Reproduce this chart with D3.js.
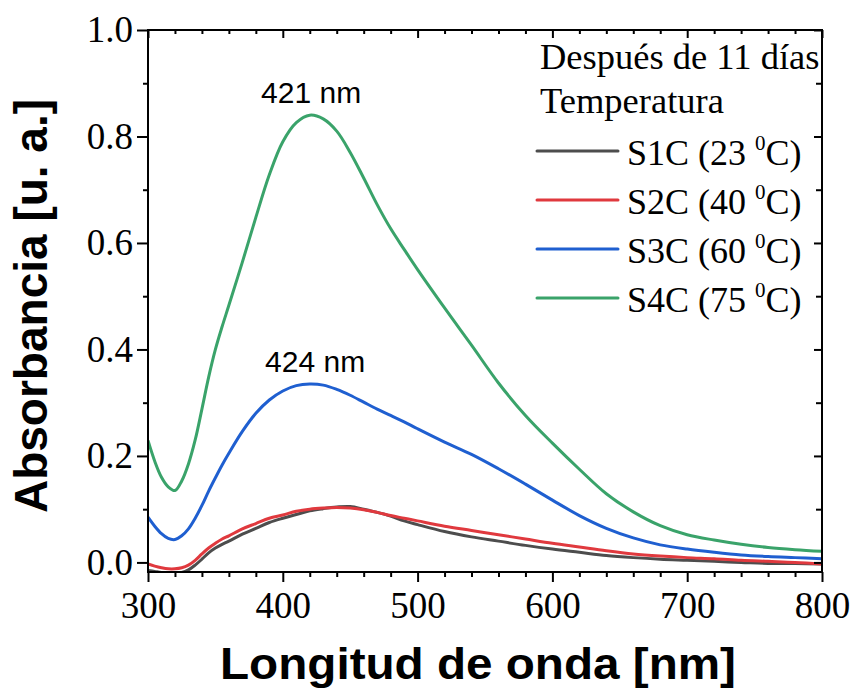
<!DOCTYPE html>
<html lang="es">
<head>
<meta charset="utf-8">
<title>Absorbancia</title>
<script src="https://cdn.jsdelivr.net/npm/d3@7"></script>
<style>
  body { margin: 0; background: #fff; }
  .tick text { font-family: "Liberation Serif", "Times New Roman", serif; }
</style>
</head>
<body>
<div id="chart"></div>
<script>
// wavelength grid [nm]
var wavelength = [300, 305, 310, 315, 320, 325, 330, 335, 340, 345, 350, 355, 360, 370, 380, 390, 400, 410, 420, 430, 440, 450, 460, 470, 480, 490, 500,
                  520, 540, 560, 580, 600, 620, 640, 660, 680, 700, 720, 740, 760, 780, 800];

// absorbance
var s1c = [-0.015, -0.017, -0.019, -0.020, -0.021, -0.019, -0.014, -0.005, 0.006, 0.018, 0.027, 0.034, 0.040, 0.053, 0.064, 0.075, 0.083, 0.090, 0.097, 0.101, 0.104, 0.105, 0.100, 0.094, 0.087, 0.078, 0.071,
           0.058, 0.048, 0.040, 0.032, 0.025, 0.019, 0.013, 0.009, 0.006, 0.004, 0.002, 0.000, -0.002, -0.002, -0.003];
var s2c = [-0.003, -0.007, -0.010, -0.012, -0.012, -0.010, -0.005, 0.004, 0.016, 0.027, 0.036, 0.044, 0.050, 0.063, 0.073, 0.083, 0.089, 0.096, 0.100, 0.102, 0.103, 0.102, 0.099, 0.094, 0.088, 0.083, 0.078,
           0.068, 0.060, 0.052, 0.044, 0.036, 0.029, 0.022, 0.016, 0.012, 0.009, 0.007, 0.004, 0.002, 0.000, -0.003];
var s3c = [0.085, 0.068, 0.054, 0.045, 0.043, 0.050, 0.063, 0.083, 0.107, 0.134, 0.159, 0.183, 0.205, 0.246, 0.280, 0.305, 0.322, 0.332, 0.335, 0.333, 0.325, 0.314, 0.301, 0.288, 0.276, 0.264, 0.251,
           0.226, 0.203, 0.176, 0.147, 0.117, 0.088, 0.064, 0.046, 0.033, 0.025, 0.019, 0.014, 0.011, 0.009, 0.007];
var s4c = [0.229, 0.190, 0.160, 0.142, 0.135, 0.153, 0.185, 0.230, 0.288, 0.348, 0.400, 0.443, 0.483, 0.564, 0.648, 0.728, 0.790, 0.826, 0.840, 0.833, 0.810, 0.770, 0.722, 0.672, 0.627, 0.588, 0.550,
           0.478, 0.408, 0.337, 0.276, 0.224, 0.175, 0.129, 0.095, 0.069, 0.052, 0.042, 0.034, 0.028, 0.024, 0.021];

var seriesNames = ["S1C (23 ", "S2C (40 ", "S3C (60 ", "S4C (75 "];
var seriesColors = ["#4d4d4d", "#e0393e", "#1f5fd0", "#3aa36a"];
var seriesValues = [s1c, s2c, s3c, s4c];

var xTicks = [300, 400, 500, 600, 700, 800];
var yTicks = [0.0, 0.2, 0.4, 0.6, 0.8, 1.0];

var peakLabels = [{ text: "421 nm", nm: 421, a: 0.84 }, { text: "424 nm", nm: 424, a: 0.335 }];

var W = 851, H = 691;
var margin = { top: 30, right: 29, bottom: 119, left: 148 };
var width = W - margin.left - margin.right,
    height = H - margin.top - margin.bottom;

var svg = d3.select("#chart").append("svg")
    .attr("width", W)
    .attr("height", H);

var g = svg.append("g")
    .attr("transform", "translate(" + margin.left + "," + margin.top + ")");

var x = d3.scaleLinear().domain([300, 800]).range([0, width]);
var y = d3.scaleLinear().domain([-0.018, 1.0]).range([height, 0]);

// clip
g.append("clipPath").attr("id", "clip")
    .append("rect").attr("width", width).attr("height", height);

// curves
var line = d3.line()
    .x(function(d) { return x(d[0]); })
    .y(function(d) { return y(d[1]); })
    .curve(d3.curveCatmullRom.alpha(0.5));

var curves = g.append("g").attr("clip-path", "url(#clip)");
seriesValues.forEach(function(vals, i) {
    curves.append("path")
        .datum(d3.zip(wavelength, vals))
        .attr("fill", "none")
        .attr("stroke", seriesColors[i])
        .attr("stroke-width", 3)
        .attr("stroke-linejoin", "round")
        .attr("d", line);
});

// axes
var xMinor = d3.range(300, 801, 20).filter(function(v) { return v % 100 !== 0; });
var yMinor = [0.1, 0.3, 0.5, 0.7, 0.9];

function styleAxis(sel) {
    sel.select(".domain").remove();
    sel.selectAll("line").attr("stroke", "#000").attr("stroke-width", 2);
    sel.selectAll("text").attr("fill", "#000");
}

// bottom
g.append("g").attr("transform", "translate(0," + height + ")")
    .call(d3.axisBottom(x).tickValues(xTicks).tickSize(10).tickPadding(10).tickFormat(d3.format("d")))
    .call(styleAxis)
    .selectAll("text").style("font-size", "37px");
g.append("g").attr("transform", "translate(0," + height + ")")
    .call(d3.axisBottom(x).tickValues(xMinor).tickSize(5).tickFormat(""))
    .call(styleAxis);

// top (inward)
g.append("g")
    .call(d3.axisTop(x).tickValues(xTicks).tickSize(-8).tickFormat(""))
    .call(styleAxis);
g.append("g")
    .call(d3.axisTop(x).tickValues(xMinor).tickSize(-4).tickFormat(""))
    .call(styleAxis);

// left
g.append("g")
    .call(d3.axisLeft(y).tickValues(yTicks).tickSize(11).tickPadding(4).tickFormat(d3.format(".1f")))
    .call(styleAxis)
    .selectAll("text").style("font-size", "37px");
g.append("g")
    .call(d3.axisLeft(y).tickValues(yMinor).tickSize(5).tickFormat(""))
    .call(styleAxis);

// right (inward)
g.append("g").attr("transform", "translate(" + width + ",0)")
    .call(d3.axisRight(y).tickValues(yTicks).tickSize(-8).tickFormat(""))
    .call(styleAxis);
g.append("g").attr("transform", "translate(" + width + ",0)")
    .call(d3.axisRight(y).tickValues(yMinor).tickSize(-6).tickFormat(""))
    .call(styleAxis);

// frame
g.append("rect")
    .attr("width", width).attr("height", height)
    .attr("fill", "none").attr("stroke", "#000").attr("stroke-width", 2);

// peak labels
g.selectAll(".peak").data(peakLabels).enter().append("text")
    .attr("x", function(d) { return x(d.nm); })
    .attr("y", function(d) { return y(d.a) - 12; })
    .attr("text-anchor", "middle")
    .style("font-family", "'Liberation Sans', Arial, sans-serif")
    .style("font-size", "30px")
    .text(function(d) { return d.text; });

// legend
var serif = "'Liberation Serif', 'Times New Roman', serif";
var legend = svg.append("g");
legend.append("text").attr("x", 540).attr("y", 69)
    .style("font-family", serif).style("font-size", "36.5px")
    .text("Después de 11 días");
legend.append("text").attr("x", 540).attr("y", 113)
    .style("font-family", serif).style("font-size", "36.5px")
    .text("Temperatura");

var rowY = [151, 200, 249, 298];
seriesNames.forEach(function(name, i) {
    legend.append("line")
        .attr("x1", 537).attr("x2", 618)
        .attr("y1", rowY[i]).attr("y2", rowY[i])
        .attr("stroke", seriesColors[i]).attr("stroke-width", 3)
        .attr("stroke-linecap", "round");
    var t = legend.append("text").attr("x", 627).attr("y", rowY[i] + 14)
        .style("font-family", serif).style("font-size", "36px");
    t.append("tspan").text(name);
    t.append("tspan").attr("dy", -15).style("font-size", "21px").text("0");
    t.append("tspan").attr("dy", 15).text("C)");
});

// axis titles
svg.append("text")
    .attr("x", margin.left + width / 2 - 7).attr("y", 679)
    .attr("text-anchor", "middle")
    .attr("textLength", 516).attr("lengthAdjust", "spacingAndGlyphs")
    .style("font-family", "'Liberation Sans', Arial, sans-serif")
    .style("font-weight", "bold").style("font-size", "44px")
    .text("Longitud de onda [nm]");

svg.append("text")
    .attr("transform", "translate(47," + (margin.top + height / 2 + 5) + ") rotate(-90)")
    .attr("text-anchor", "middle")
    .style("font-family", "'Liberation Sans', Arial, sans-serif")
    .style("font-weight", "bold").style("font-size", "46px")
    .text("Absorbancia [u. a.]");
</script>
</body>
</html>
